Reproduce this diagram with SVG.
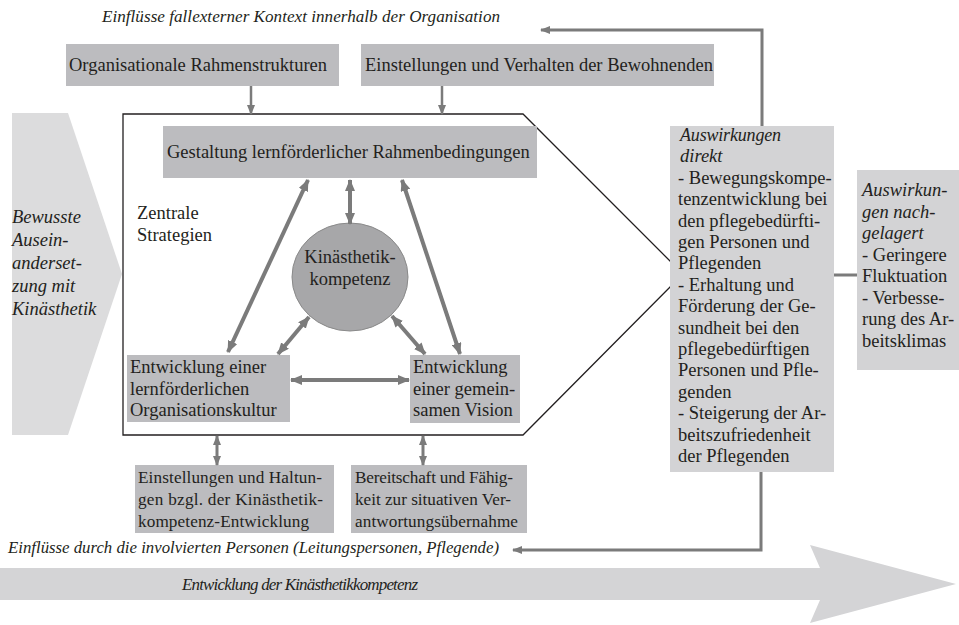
<svg xmlns="http://www.w3.org/2000/svg" width="959" height="625" viewBox="0 0 959 625">
<style>
text{font-family:"Liberation Serif","Times New Roman",serif;font-size:18.5px;fill:#231f20}
.it{font-style:italic}
.sm{font-size:17.2px}
.box{fill:#bcbcbf}
.lbox{fill:#d3d3d5}
.con{stroke:#7b7b7b;fill:none}
.thick{stroke-width:4}
.mid{stroke-width:3}
.thin{stroke-width:2.5}
</style>
<defs>
<marker id="ah" markerUnits="userSpaceOnUse" viewBox="0 0 12 10" refX="11" refY="5" markerWidth="12" markerHeight="10" orient="auto-start-reverse"><path d="M0,0 L12,5 L0,10 z" fill="#7b7b7b"/></marker>
<marker id="ahs" markerUnits="userSpaceOnUse" viewBox="0 0 10 8" refX="9" refY="4" markerWidth="10" markerHeight="8" orient="auto-start-reverse"><path d="M0,0 L10,4 L0,8 z" fill="#7b7b7b"/></marker>
</defs>

<g id="chevron-left">
<polygon points="12,113 68,113 122,274 68,435 12,435" fill="#dcdcdd"/>
<text class="it" x="12" y="223">Bewusste</text>
<text class="it" x="12" y="246">Ausein-</text>
<text class="it" x="12" y="269">anderset-</text>
<text class="it" x="12" y="292">zung mit</text>
<text class="it" x="12" y="315">Kinästhetik</text>
</g>

<g id="bottom-arrow">
<polygon points="0,568 820,568 810,545 956,584 810,623 820,600 0,600" fill="#d4d4d6"/>
<text class="it" x="182" y="590" style="font-size:17px" textLength="236">Entwicklung der Kinästhetikkompetenz</text>
</g>

<g id="title-top"><text class="it" x="102" y="22" style="font-size:17.1px" textLength="398">Einflüsse fallexterner Kontext innerhalb der Organisation</text></g>
<g id="title-bottom"><text class="it" x="8" y="553" style="font-size:16.8px" textLength="491">Einflüsse durch die involvierten Personen (Leitungspersonen, Pflegende)</text></g>

<g id="frame">
<polygon points="123,114 523,114 683,274 523,435 123,435" fill="#fff" stroke="#231f20" stroke-width="1.3"/>
</g>

<g id="org-rahmen"><rect class="box" x="66" y="44" width="273" height="42"/><text x="69" y="71">Organisationale Rahmenstrukturen</text></g>
<g id="bewohnende"><rect class="box" x="361" y="44" width="353" height="42"/><text x="365" y="71">Einstellungen und Verhalten der Bewohnenden</text></g>

<g id="gestaltung"><rect class="box" x="163" y="126" width="374" height="52"/><text x="167" y="158">Gestaltung lernförderlicher Rahmenbedingungen</text></g>

<g id="zentrale"><text x="137" y="219">Zentrale</text><text x="137" y="241">Strategien</text></g>

<g id="kompetenz"><ellipse cx="350" cy="277" rx="58" ry="54" fill="#a7a7a9" stroke="#8a8a8a" stroke-width="1"/>
<text x="350" y="263" text-anchor="middle">Kinästhetik-</text><text x="350" y="285" text-anchor="middle">kompetenz</text></g>

<g id="kultur"><rect class="box" x="127" y="355" width="163" height="67"/>
<text x="130" y="373">Entwicklung einer</text><text x="130" y="394.5">lernförderlichen</text><text x="130" y="416">Organisationskultur</text></g>

<g id="vision"><rect class="box" x="410" y="355" width="110" height="68"/>
<text x="413" y="373">Entwicklung</text><text x="413" y="394.5">einer gemein-</text><text x="413" y="416">samen Vision</text></g>

<g id="haltungen"><rect class="box" x="135" y="465" width="199" height="68"/>
<text class="sm" x="138" y="483" textLength="184">Einstellungen und Haltun-</text><text class="sm" x="138" y="505" textLength="185">gen bzgl. der Kinästhetik-</text><text class="sm" x="138" y="527" textLength="171">kompetenz-Entwicklung</text></g>

<g id="bereitschaft"><rect class="box" x="351" y="465" width="176" height="68"/>
<text class="sm" x="355" y="483" textLength="158">Bereitschaft und Fähig-</text><text class="sm" x="355" y="505" textLength="156">keit zur situativen Ver-</text><text class="sm" x="355" y="527" textLength="163">antwortungsübernahme</text></g>

<g id="auswirkungen-direkt"><rect class="lbox" x="670" y="126" width="164" height="346"/>
<text x="680" y="141" class="it" style="font-size:18px" textLength="101">Auswirkungen</text>
<text x="680" y="162.4" class="it">direkt</text>
<text x="678" y="183.8">- Bewegungskompe-</text>
<text x="678" y="205.2">tenzentwicklung bei</text>
<text x="678" y="226.6">den pflegebedürfti-</text>
<text x="678" y="248">gen Personen und</text>
<text x="678" y="269.4">Pflegenden</text>
<text x="678" y="290.8">- Erhaltung und</text>
<text x="678" y="312.2">Förderung der Ge-</text>
<text x="678" y="333.6">sundheit bei den</text>
<text x="678" y="355">pflegebedürftigen</text>
<text x="678" y="376.4">Personen und Pfle-</text>
<text x="678" y="397.8">genden</text>
<text x="678" y="419.2">- Steigerung der Ar-</text>
<text x="678" y="440.6">beitszufriedenheit</text>
<text x="678" y="462">der Pflegenden</text>
</g>

<g id="auswirkungen-nachgelagert"><rect class="lbox" x="857" y="170" width="102" height="200"/>
<text x="862" y="196" class="it">Auswirkun-</text>
<text x="862" y="217.5" class="it">gen nach-</text>
<text x="862" y="239" class="it">gelagert</text>
<text x="862" y="260.5">- Geringere</text>
<text x="862" y="282">Fluktuation</text>
<text x="862" y="303.5">- Verbesse-</text>
<text x="862" y="325">rung des Ar-</text>
<text x="862" y="346.5">beitsklimas</text>
</g>

<g id="connectors">
<line class="con thin" x1="251" y1="86" x2="251" y2="114" marker-end="url(#ahs)"/>
<line class="con thin" x1="442" y1="86" x2="442" y2="114" marker-end="url(#ahs)"/>
<polyline class="con mid" points="762,126 762,30 541,30" marker-end="url(#ahs)"/>
<polyline class="con mid" points="761,472 761,550 513,550" marker-end="url(#ahs)"/>
<line class="con mid" x1="834" y1="275" x2="857" y2="275"/>
<line class="con thick" x1="350" y1="180" x2="350" y2="224" marker-start="url(#ah)" marker-end="url(#ah)"/>
<line class="con thick" x1="308" y1="180" x2="228" y2="352" marker-start="url(#ah)" marker-end="url(#ah)"/>
<line class="con thick" x1="402" y1="180" x2="460" y2="354" marker-start="url(#ah)" marker-end="url(#ah)"/>
<line class="con thick" x1="309" y1="317" x2="278" y2="354" marker-start="url(#ah)" marker-end="url(#ah)"/>
<line class="con thick" x1="392" y1="316" x2="425" y2="354" marker-start="url(#ah)" marker-end="url(#ah)"/>
<line class="con thick" x1="291" y1="380" x2="409" y2="380" marker-start="url(#ah)" marker-end="url(#ah)"/>
<line class="con mid" x1="217" y1="436" x2="217" y2="465" marker-start="url(#ahs)" marker-end="url(#ahs)"/>
<line class="con mid" x1="423" y1="436" x2="423" y2="465" marker-start="url(#ahs)" marker-end="url(#ahs)"/>
</g>
</svg>
